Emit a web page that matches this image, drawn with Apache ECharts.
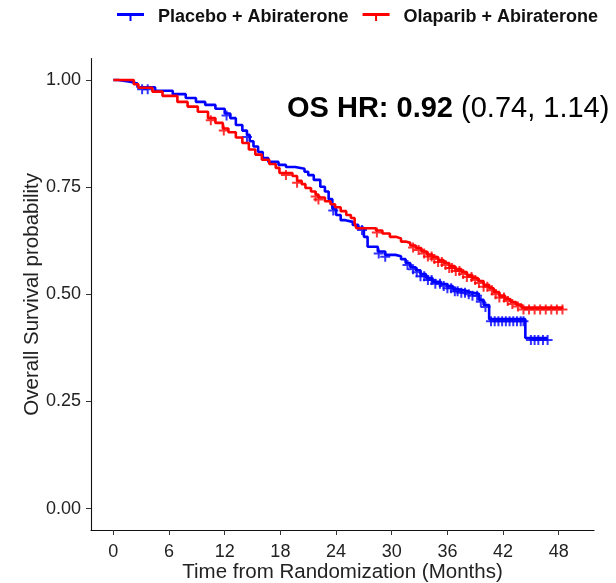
<!DOCTYPE html>
<html>
<head>
<meta charset="utf-8">
<script src="https://cdn.jsdelivr.net/npm/echarts@6/dist/echarts.min.js"></script>
<style>
html,body{margin:0;padding:0;background:#fff;}
#chart{width:616px;height:583px;}
</style>
</head>
<body>
<div id="chart"></div>
<script>
// ---- Data ----
const seriesNames = ['Placebo + Abiraterone', 'Olaparib + Abiraterone'];
const xTicks = [0, 6, 12, 18, 24, 30, 36, 42, 48];
const yTicks = [0, 0.25, 0.5, 0.75, 1.0];

const placeboTime = [0, 0.5, 1.8, 2.6, 4.5, 6.4, 7.8, 8.9, 9.9, 11.0, 12.0, 12.6, 13.2, 13.9, 14.4, 14.7, 15.1, 15.6, 16.1, 16.7, 17.8, 18.6, 19.6, 20.6, 21.0, 21.6, 22.3, 22.8, 23.2, 23.6, 24.0, 24.5, 25.0, 25.8, 26.4, 27.0, 27.4, 28.5, 29.3, 30.4, 31.0, 31.5, 32.0, 32.6, 33.1, 33.7, 34.4, 35.3, 36.0, 36.6, 37.2, 38.0, 38.5, 39.4, 39.9, 40.5, 44.4, 46.8];
const placeboSurv = [1.0, 0.996, 0.992, 0.983, 0.975, 0.967, 0.958, 0.949, 0.942, 0.933, 0.922, 0.911, 0.895, 0.882, 0.872, 0.857, 0.845, 0.832, 0.818, 0.809, 0.802, 0.797, 0.793, 0.786, 0.778, 0.767, 0.751, 0.740, 0.722, 0.700, 0.685, 0.673, 0.669, 0.662, 0.655, 0.634, 0.611, 0.600, 0.592, 0.589, 0.582, 0.573, 0.563, 0.556, 0.547, 0.538, 0.529, 0.524, 0.519, 0.512, 0.508, 0.505, 0.501, 0.487, 0.475, 0.442, 0.398, 0.398];
const placeboCensor = [3.1, 3.7, 12.2, 14.4, 23.7, 26.8, 28.6, 29.3, 31.7, 32.3, 32.7, 33.1, 33.5, 33.9, 34.3, 34.7, 35.2, 35.6, 36.0, 36.4, 36.8, 37.1, 37.5, 37.9, 38.3, 38.7, 39.2, 39.6, 40.1, 40.7, 41.1, 41.5, 41.9, 42.3, 42.7, 43.1, 43.5, 43.9, 44.2, 45.0, 45.4, 45.8, 46.3, 46.8];

const olaparibTime = [0, 2.2, 2.7, 4.2, 5.3, 6.9, 8.0, 9.1, 10.2, 11.0, 11.8, 12.4, 13.2, 13.9, 14.6, 15.3, 16.0, 16.8, 17.5, 17.9, 19.3, 19.8, 20.3, 20.7, 21.3, 21.8, 22.1, 22.8, 23.4, 23.9, 24.5, 25.1, 25.6, 26.0, 26.2, 28.3, 29.0, 29.8, 30.5, 31.0, 31.5, 32.0, 32.6, 33.2, 33.8, 34.4, 35.0, 35.6, 36.2, 36.8, 37.5, 38.1, 38.7, 39.3, 39.9, 40.5, 41.0, 41.6, 42.2, 42.8, 43.4, 44.0, 48.5];
const olaparibSurv = [1.0, 0.990, 0.982, 0.973, 0.963, 0.949, 0.938, 0.926, 0.911, 0.900, 0.887, 0.878, 0.866, 0.853, 0.838, 0.826, 0.814, 0.804, 0.795, 0.783, 0.776, 0.765, 0.757, 0.748, 0.740, 0.733, 0.726, 0.717, 0.710, 0.703, 0.694, 0.685, 0.678, 0.665, 0.654, 0.649, 0.642, 0.634, 0.630, 0.623, 0.620, 0.614, 0.608, 0.600, 0.593, 0.587, 0.580, 0.573, 0.566, 0.559, 0.552, 0.545, 0.538, 0.531, 0.522, 0.514, 0.505, 0.497, 0.489, 0.482, 0.476, 0.469, 0.469];
const olaparibCensor = [10.5, 11.9, 18.6, 19.8, 21.8, 22.1, 28.4, 32.3, 32.9, 33.5, 33.9, 34.3, 34.6, 35.0, 35.4, 35.8, 36.2, 36.5, 36.9, 37.3, 37.7, 38.1, 38.6, 39.0, 39.4, 39.9, 40.3, 40.8, 41.2, 41.6, 42.1, 42.5, 43.0, 43.6, 44.2, 44.8, 45.4, 46.0, 46.6, 47.2, 47.8, 48.4];

// ---- helpers ----
function pairs(T, S) { return T.map((t, i) => [t, S[i]]); }
function survAt(T, S, t) {
  let v = S[0];
  for (let i = 0; i < T.length; i++) { if (T[i] <= t) v = S[i]; }
  return v;
}
function censorPts(C, T, S) { return C.map(t => [t, survAt(T, S, t)]); }

const FONT = 'Liberation Sans, Arial, sans-serif';
const BLUE = '#0000FF', RED = '#FF0000';
const plusPath = 'path://M0,4 L10,4 L10,6 L0,6 Z M4,0 L6,0 L6,10 L4,10 Z';
const legendIcon = 'path://M0,0 L27,0 L27,3 L0,3 Z M12.5,0 L14.5,0 L14.5,8 L12.5,8 Z';

const chart = echarts.init(document.getElementById('chart'), null, {renderer: 'canvas'});
chart.setOption({
  animation: false,
  backgroundColor: '#fff',
  textStyle: {fontFamily: FONT},
  legend: {
    data: seriesNames,
    left: 112, top: 3,
    icon: legendIcon,
    itemWidth: 27, itemHeight: 8, itemGap: 14,
    textStyle: {fontSize: 18, fontWeight: 'bold', color: '#111', fontFamily: FONT, padding: [0, 0, 0, 9]}
  },
  grid: {left: 91, right: 22, top: 58.6, bottom: 53, outerBoundsMode: 'none', containLabel: false},
  xAxis: {
    type: 'value', min: -2.41, max: 51.8,
    name: 'Time from Randomization (Months)', nameLocation: 'middle', nameGap: 32, nameMoveOverlap: false,
    nameTextStyle: {fontSize: 20.5, color: '#222', fontFamily: FONT},
    splitLine: {show: false},
    axisLine: {show: true, onZero: false, lineStyle: {color: '#111', width: 1.1}},
    axisTick: {show: true, length: 5, customValues: xTicks, lineStyle: {color: '#333'}},
    axisLabel: {customValues: xTicks, fontSize: 18, color: '#222', margin: 13, fontFamily: FONT}
  },
  yAxis: {
    type: 'value', min: -0.05, max: 1.05,
    name: 'Overall Survival probability', nameLocation: 'middle', nameGap: 48, nameMoveOverlap: false,
    nameTextStyle: {fontSize: 20.5, color: '#222', fontFamily: FONT},
    splitLine: {show: false},
    axisLine: {show: true, onZero: false, lineStyle: {color: '#111', width: 1.1}},
    axisTick: {show: true, length: 5, customValues: yTicks, lineStyle: {color: '#333'}},
    axisLabel: {customValues: yTicks, fontSize: 18, color: '#222', margin: 10, fontFamily: FONT,
      formatter: v => v.toFixed(2)}
  },
  graphic: [{
    type: 'text', left: 287, top: 94,
    style: {
      text: '{b|OS HR: 0.92} {r|(0.74, 1.14)}',
      fontFamily: FONT, fontSize: 29, fill: '#000',
      rich: {
        b: {fontWeight: 'bold', fontSize: 29, fontFamily: FONT, fill: '#000'},
        r: {fontWeight: 'normal', fontSize: 29, fontFamily: FONT, fill: '#000'}
      }
    }
  }],
  series: [
    {name: seriesNames[0], type: 'line', step: 'end', data: pairs(placeboTime, placeboSurv),
      showSymbol: false, symbol: 'none', itemStyle: {color: BLUE}, lineStyle: {color: BLUE, width: 2.6}, z: 2},
    {name: seriesNames[1], type: 'line', step: 'end', data: pairs(olaparibTime, olaparibSurv),
      showSymbol: false, symbol: 'none', itemStyle: {color: RED}, lineStyle: {color: RED, width: 2.6}, z: 3},
    {name: 'placeboCensor', type: 'scatter', data: censorPts(placeboCensor, placeboTime, placeboSurv),
      symbol: plusPath, symbolSize: 10, symbolOffset: [0, 2], itemStyle: {color: BLUE}, z: 2},
    {name: 'olaparibCensor', type: 'scatter', data: censorPts(olaparibCensor, olaparibTime, olaparibSurv),
      symbol: plusPath, symbolSize: 10, symbolOffset: [0, 2], itemStyle: {color: RED}, z: 3}
  ]
});
</script>
</body>
</html>
